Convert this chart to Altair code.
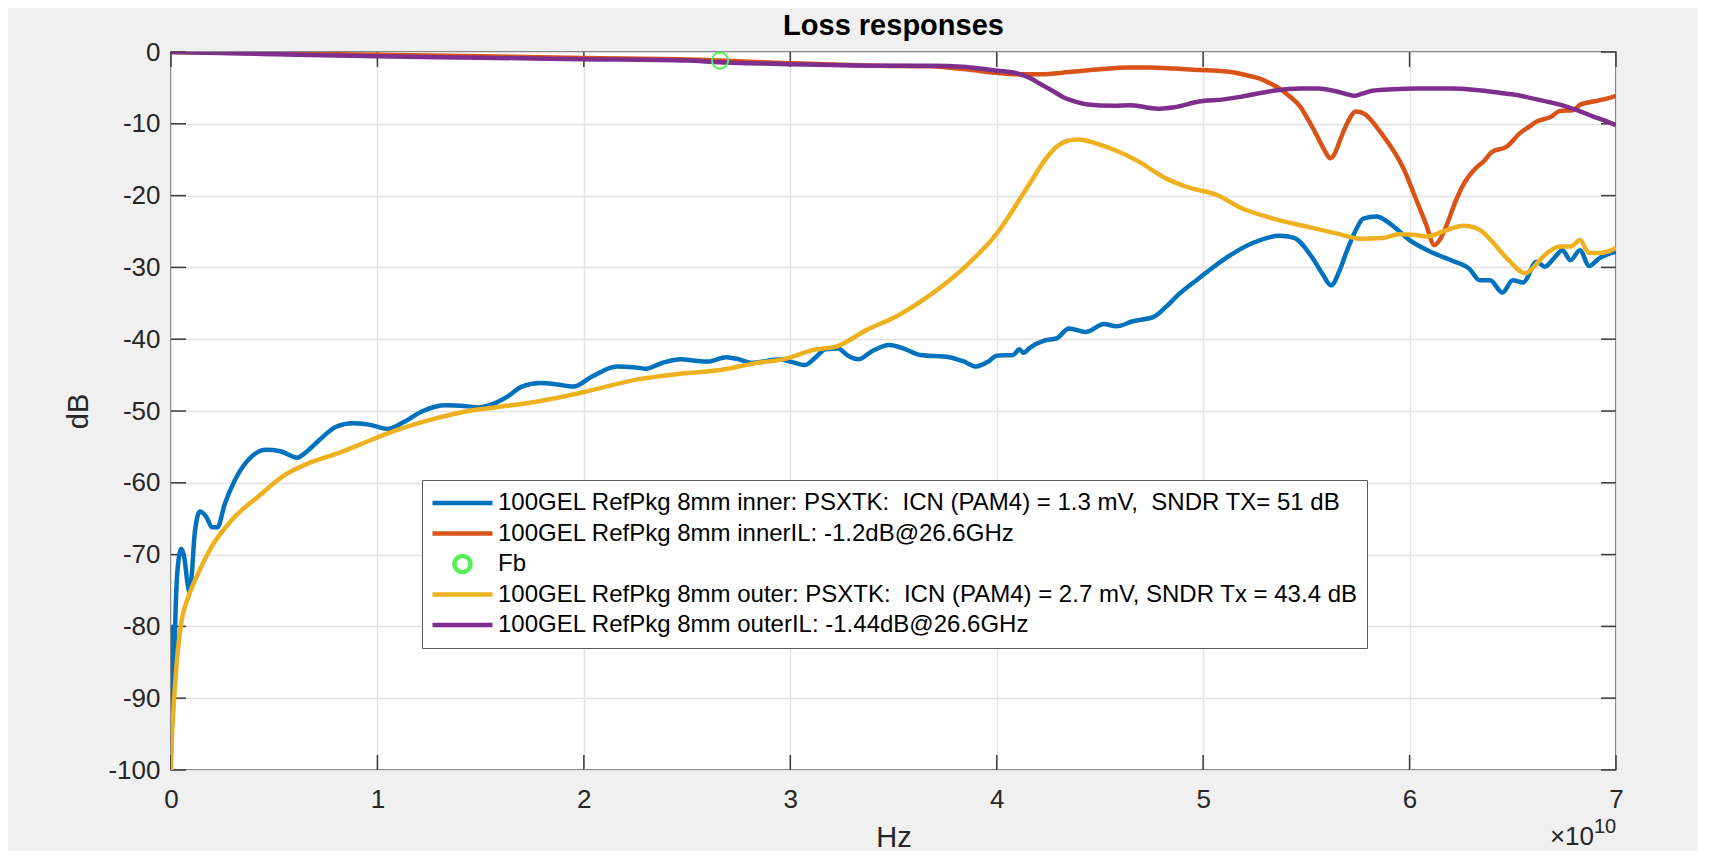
import altair as alt
import pandas as pd

# ---------------- data ----------------
TITLE = "Loss responses"
X_TITLE = "Hz"
Y_TITLE = "dB"
X_EXP_BASE = "×10"
X_EXP_POW = "10"

NB = "\u00a0"
series_names = [
    "100GEL RefPkg 8mm inner: PSXTK: " + NB + "ICN (PAM4) = 1.3 mV, " + NB + "SNDR TX= 51 dB",
    "100GEL RefPkg 8mm innerIL: -1.2dB@26.6GHz",
    "Fb",
    "100GEL RefPkg 8mm outer: PSXTK: " + NB + "ICN (PAM4) = 2.7 mV, SNDR Tx = 43.4 dB",
    "100GEL RefPkg 8mm outerIL: -1.44dB@26.6GHz",
]
series_colors = ["#0072BD", "#D95319", "#55EE55", "#EDB120", "#7E2F8E"]
STROKE_PATH = "M-1,0H1"
CIRCLE_PATH = "M-0.27,0A0.27,0.27,0,1,1,0.27,0A0.27,0.27,0,1,1,-0.27,0Z"
series_shapes = [STROKE_PATH, STROKE_PATH, CIRCLE_PATH, STROKE_PATH, STROKE_PATH]

x_tick_values = [0, 1, 2, 3, 4, 5, 6, 7]          # x 1e10 Hz
y_tick_values = [-100, -90, -80, -70, -60, -50, -40, -30, -20, -10, 0]

# inner PSXTK (blue), frequency in GHz, level in dB
inner_xt_ghz = [0, 0.05, 0.1, 0.15, 0.22, 0.32, 0.5, 0.65, 0.8, 0.9, 1.0, 1.15, 1.4, 1.7, 2.0,
                2.25, 2.6, 3.1, 3.75, 4.6, 5.3, 6.1, 6.6, 7.2, 8.0, 8.8, 9.6, 10.5, 11.3, 12.2,
                13.3, 14.2, 14.9, 15.7, 16.3, 17.0, 17.9, 18.7, 19.5, 20.4, 21.6, 22.4, 23.0,
                23.8, 24.7, 25.4, 26.0, 26.9, 27.5, 28.1, 29.5, 30.1, 30.7, 31.2, 31.7, 32.3,
                32.8, 33.3, 34.0, 34.8, 35.5, 36.3, 37.7, 38.4, 39.0, 39.6, 40.0, 40.8, 41.1,
                41.3, 41.6, 42.3, 42.9, 43.5, 44.3, 45.2, 45.8, 46.6, 47.6, 48.2, 48.8, 49.8,
                51.1, 52.4, 53.7, 54.4, 55.3, 55.8, 56.2, 56.6, 56.95, 57.4, 57.75, 58.4, 59.05,
                60.0, 61.15, 62.1, 62.9, 63.4, 63.9, 64.5, 65.0, 65.5, 66.15, 66.55, 67.0, 67.4,
                67.8, 68.25, 68.7, 69.2, 70.0]
inner_xt_db = [-97.5, -90, -80, -86, -78, -72, -69.2, -70.5, -74, -75.2, -73, -67, -64.0, -64.7, -66.2,
               -66.2, -63.0, -59.6, -56.8, -55.4, -55.6, -56.5, -55.6, -54.0, -52.2, -51.7, -51.9, -52.5, -51.5, -50.0,
               -49.2, -49.3, -49.5, -48.9, -48.0, -46.6, -46.1, -46.3, -46.6, -45.2, -43.8, -43.9, -44.1,
               -43.3, -42.8, -43.0, -43.1, -42.5, -42.8, -43.3, -42.8, -43.2, -43.6, -42.6, -41.4, -41.3,
               -42.3, -42.8, -41.6, -40.8, -41.3, -42.2, -42.5, -43.1, -43.8, -43.1, -42.3, -42.2, -41.4,
               -41.9, -41.2, -40.2, -39.9, -38.5, -39.0, -37.9, -38.2, -37.5, -36.9, -35.5, -33.8, -31.5,
               -28.7, -26.6, -25.6, -25.9, -28.7, -31.0, -32.5, -30.5, -27.8, -24.8, -23.2, -22.9, -23.9,
               -26.2, -28.0, -29.1, -30.2, -31.8, -31.8, -33.5, -31.8, -32.1, -29.2, -29.9, -28.7, -27.6,
               -29.0, -27.6, -29.8, -28.7, -27.8]

# inner IL (orange)
inner_il_ghz = [0, 5, 10, 15, 20, 24.7, 26.6, 28, 30, 32, 34.3, 36.8, 38.5, 40, 41, 42.1, 43.5,
                45.0, 46.4, 47.4, 48.6, 49.8, 50.7, 51.5, 52.2, 52.75, 53.2, 53.7, 54.2, 54.7,
                55.1, 55.5, 55.9, 56.15, 56.4, 56.6, 57.0, 57.4, 57.8, 58.2, 58.6, 59.05, 59.7,
                60.3, 60.8, 61.2, 61.5, 61.8, 62.2, 62.6, 63.2, 63.6, 64.0, 64.7, 65.35, 65.8,
                66.15, 66.8, 67.3, 67.9, 68.3, 68.9, 69.4, 70.0]
inner_il_db = [0, -0.2, -0.4, -0.6, -0.85, -1.0, -1.2, -1.35, -1.55, -1.75, -1.9, -2.0, -2.4, -2.9, -3.1, -3.1, -2.8,
               -2.4, -2.15, -2.15, -2.3, -2.5, -2.6, -2.85, -3.3, -3.7, -4.3, -5.1, -6.2, -7.6,
               -9.5, -11.6, -13.8, -14.8, -14.0, -12.5, -9.8, -8.3, -8.6, -9.7, -11.2, -13.0, -16.2,
               -20.4, -24.0, -26.9, -26.0, -24.1, -21.0, -18.5, -16.2, -15.2, -13.9, -13.2, -11.3, -10.4,
               -9.7, -9.1, -8.2, -8.1, -7.3, -6.9, -6.6, -6.1]

# outer PSXTK (yellow)
outer_xt_ghz = [0, 0.05, 0.11, 0.28, 0.52, 0.84, 1.32, 1.97, 2.94, 4.23, 5.52, 6.65, 8.27, 9.72,
                11.0, 12.6, 14.2, 15.7, 17.7, 20.1, 22.6, 24.7, 26.6, 28.2, 29.8, 31.1, 32.25,
                33.7, 35.15, 36.8, 38.4, 40.0, 41.6, 42.4, 42.9, 43.4, 43.9, 44.4, 45.0, 46.0,
                46.9, 48.2, 49.2, 50.65, 51.9, 53.4, 55.3, 56.5, 57.6, 58.7, 59.5, 60.3, 60.8,
                61.8, 62.6, 63.2, 63.6, 64.0, 64.8, 65.6, 66.0, 66.4, 67.3, 67.8, 68.25, 68.7,
                69.2, 69.6, 70.0]
outer_xt_db = [-100, -95, -92, -85, -79.1, -75.9, -72.6, -68.9, -65.2, -61.9, -58.9, -57.3, -55.7, -54.0,
               -52.6, -51.2, -50.1, -49.5, -48.7, -47.3, -45.6, -44.8, -44.3, -43.4, -42.7, -41.5, -41.0,
               -38.7, -36.8, -33.8, -30.1, -25.3, -18.3, -14.8, -13.2, -12.4, -12.2, -12.4, -12.9, -14.0,
               -15.3, -17.6, -18.8, -19.9, -21.8, -23.2, -24.5, -25.3, -26.0, -25.9, -25.4, -25.5, -25.7,
               -24.8, -24.2, -24.5, -25.2, -26.4, -29.0, -30.8, -30.0, -28.7, -27.1, -27.1, -26.2, -28.0,
               -28.0, -27.8, -27.3]

# outer IL (purple)
outer_il_ghz = [0, 5, 10, 15, 20, 25, 26.6, 28, 30, 32, 34, 36.8, 38.5, 40, 41, 41.6, 42.2, 42.7,
                43.3, 43.8, 44.4, 45.6, 46.5, 47.2, 47.9, 48.6, 49.8, 51.0, 51.9, 53.4, 54.7, 55.6,
                56.3, 57.0, 57.3, 57.7, 58.2, 59.2, 60.3, 62.0, 63.2, 64.4, 65.2, 66.0, 66.8, 67.6,
                68.3, 68.9, 69.4, 70.0]
outer_il_db = [0, -0.3, -0.6, -0.8, -1.0, -1.2, -1.44, -1.55, -1.7, -1.8, -1.9, -1.9, -2.1, -2.6, -3.0, -3.6, -4.6, -5.4,
               -6.4, -6.9, -7.3, -7.5, -7.4, -7.7, -7.9, -7.7, -6.9, -6.6, -6.2, -5.4, -5.1, -5.1,
               -5.4, -5.9, -6.1, -5.8, -5.4, -5.2, -5.1, -5.1, -5.3, -5.7, -6.0, -6.5, -7.0, -7.6,
               -8.3, -9.0, -9.5, -10.2]

fb_ghz = [26.6]
fb_db = [-1.2]

# ---------------- tables ----------------
rows = []
for name, fs, ds in [(series_names[0], inner_xt_ghz, inner_xt_db),
                     (series_names[1], inner_il_ghz, inner_il_db),
                     (series_names[3], outer_xt_ghz, outer_xt_db),
                     (series_names[4], outer_il_ghz, outer_il_db)]:
    for f, d in zip(fs, ds):
        rows.append({"series": name, "hz": f * 1e9, "db": d})
lines_df = pd.DataFrame(rows)
fb_df = pd.DataFrame({"series": [series_names[2]] * len(fb_ghz),
                      "hz": [f * 1e9 for f in fb_ghz], "db": fb_db})
xt_df = pd.DataFrame({"hz": [v * 1e10 for v in x_tick_values]})
yt_df = pd.DataFrame({"db": y_tick_values})

# ---------------- styling ----------------
W, H = 1445, 718
FONT = "Liberation Sans"
AX = "#262626"
GRID = "#e2e2e2"
TICK = "#3a3a3a"
TL = 15

x_scale = alt.Scale(domain=[0, 7e10], nice=False, zero=False)
y_scale = alt.Scale(domain=[-100, 0], nice=False, zero=False)
color_scale = alt.Scale(domain=series_names, range=series_colors)
shape_scale = alt.Scale(domain=series_names, range=series_shapes)

x_axis = alt.Axis(values=[v * 1e10 for v in x_tick_values],
                  labelExpr="format(datum.value / 1e10, 'd')",
                  title=X_TITLE, grid=True, gridColor=GRID, gridWidth=1.5,
                  ticks=False, domain=False, labelFont=FONT, labelFontSize=26,
                  labelColor=AX, labelPadding=16, labelFlush=False, labelOverlap=False,
                  titleFont=FONT, titleFontSize=29, titleFontWeight="normal",
                  titleColor=AX, titlePadding=11)
y_axis = alt.Axis(values=y_tick_values,
                  labelExpr="datum.value == 0 ? '0' : '-' + format(abs(datum.value), 'd')",
                  title=Y_TITLE, grid=True, gridColor=GRID, gridWidth=1.5,
                  ticks=False, domain=False, labelFont=FONT, labelFontSize=26,
                  labelColor=AX, labelPadding=11, labelFlush=False, labelOverlap=False,
                  titleFont=FONT, titleFontSize=29, titleFontWeight="normal",
                  titleColor=AX, titlePadding=14)

legend = alt.Legend(title=None, orient="none", legendX=251, legendY=428,
                    symbolSize=3600, clipHeight=30, rowPadding=0.5, padding=8,
                    labelFont=FONT, labelFontSize=24, labelColor="black", labelOffset=3,
                    labelLimit=0, fillColor="white", strokeColor="#5a5a5a",
                    symbolStrokeWidth=4.5, labelExpr="datum.label + '   '")

X = alt.X("hz:Q", scale=x_scale, axis=x_axis)
Y = alt.Y("db:Q", scale=y_scale, axis=y_axis)

lines = alt.Chart(lines_df).mark_line(strokeWidth=4.5, clip=True, interpolate="monotone").encode(
    x=X, y=Y,
    color=alt.Color("series:N", scale=color_scale, legend=legend, sort=series_names),
)

fb = alt.Chart(fb_df).mark_point(filled=False, size=3600, strokeWidth=2, opacity=1).encode(
    x=X, y=Y,
    color=alt.Color("series:N", scale=color_scale, legend=legend, sort=series_names),
    shape=alt.Shape("series:N", scale=shape_scale, legend=legend, sort=series_names),
)

top_ticks = alt.Chart(xt_df).mark_rule(color=TICK, strokeWidth=1.5).encode(
    x=X, y=alt.value(0), y2=alt.value(TL))
bottom_ticks = alt.Chart(xt_df).mark_rule(color=TICK, strokeWidth=1.5).encode(
    x=X, y=alt.value(H - TL), y2=alt.value(H))
left_ticks = alt.Chart(yt_df).mark_rule(color=TICK, strokeWidth=1.5).encode(
    y=Y, x=alt.value(0), x2=alt.value(TL))
right_ticks = alt.Chart(yt_df).mark_rule(color=TICK, strokeWidth=1.5).encode(
    y=Y, x=alt.value(W - TL), x2=alt.value(W))

title_text = alt.Chart(pd.DataFrame({"t": [TITLE]})).mark_text(
    font=FONT, fontSize=29, fontWeight="bold", color="black", align="center",
    baseline="alphabetic").encode(text="t:N", x=alt.value(W / 2), y=alt.value(-17))
exp_base = alt.Chart(pd.DataFrame({"t": [X_EXP_BASE]})).mark_text(
    font=FONT, fontSize=26, color=AX, align="right", baseline="alphabetic").encode(
    text="t:N", x=alt.value(W - 22), y=alt.value(H + 75))
exp_pow = alt.Chart(pd.DataFrame({"t": [X_EXP_POW]})).mark_text(
    font=FONT, fontSize=20, color=AX, align="left", baseline="alphabetic").encode(
    text="t:N", x=alt.value(W - 22), y=alt.value(H + 63))

chart = alt.layer(
    top_ticks, bottom_ticks, left_ticks, right_ticks, lines, fb,
    title_text, exp_base, exp_pow
).properties(
    width=W, height=H,
    padding={"left": 163, "top": 44, "right": 82, "bottom": 81},
    autosize=alt.AutoSizeParams(type="none"),
    background="#f0f0f0",
).configure_view(fill="white", stroke="#3a3a3a", strokeWidth=1.5)

chart.save("out.html", embed_options={"renderer": "svg", "actions": False})
